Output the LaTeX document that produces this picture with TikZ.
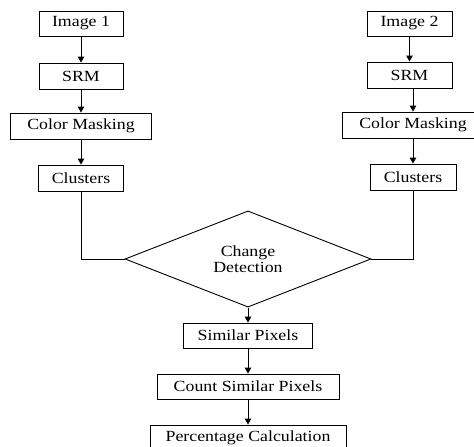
\documentclass[tikz,border=0pt]{standalone}
\usepackage{fontspec}
\setmainfont{Liberation Serif}[FakeStretch=1.15]
\usetikzlibrary{shapes.geometric,arrows.meta}
\begin{document}
\begin{tikzpicture}[x=1pt,y=-1pt,
  box/.style={draw, line width=0.9pt, minimum height=26pt, inner sep=0pt,
    font=\fontsize{15.5}{18}\selectfont},
  arr/.style={-{Triangle[length=6pt,width=6.5pt]}, line width=0.9pt},
  lnk/.style={line width=0.9pt}]
\useasboundingbox (0,0) rectangle (474,447);
\clip (0,0) rectangle (474,447);
% left column
\node[box, minimum width=84pt, minimum height=25pt] (img1) at (81,23.5) {Image 1};
\node[box, minimum width=84pt] (srm1) at (81,76) {SRM};
\node[box, minimum width=141pt] (cm1) at (81,126) {Color Masking};
\node[box, minimum width=85pt] (cl1) at (81,178) {Clusters};
% right column
\node[box, minimum width=85pt, minimum height=25pt] (img2) at (409.5,23.5) {Image 2};
\node[box, minimum width=85pt] (srm2) at (409.5,75) {SRM};
\node[box, minimum width=142pt] (cm2) at (413,125) {Color Masking};
\node[box, minimum width=86pt] (cl2) at (413,177) {Clusters};
% diamond
\node[draw, line width=0.9pt, diamond, minimum width=246pt, minimum height=76pt,
  inner sep=0pt, align=center, font=\fontsize{15.5}{16}\selectfont] (cd) at (248,259) {Change\\Detection};
% bottom
\node[box, minimum width=129pt, minimum height=25pt] (sp) at (248,335.5) {Similar Pixels};
\node[box, minimum width=182pt, minimum height=25pt] (csp) at (248,386.5) {Count Similar Pixels};
\node[box, minimum width=196pt] (pc) at (248,438) {Percentage Calculation};
% arrows
\draw[arr] (img1) -- (srm1);
\draw[arr] (srm1) -- (cm1);
\draw[arr] (cm1) -- (cl1);
\draw[arr] (img2) -- (srm2);
\draw[arr] (srm2.south -| cm2) -- (cm2.north);
\draw[arr] (cm2) -- (cl2);
\draw[lnk] (cl1.south) |- (cd.west);
\draw[lnk] (cl2.south) |- (cd.east);
\draw[arr] (cd.south) -- (sp.north);
\draw[arr] (sp) -- (csp);
\draw[arr] (csp) -- (pc);
\end{tikzpicture}
\end{document}
